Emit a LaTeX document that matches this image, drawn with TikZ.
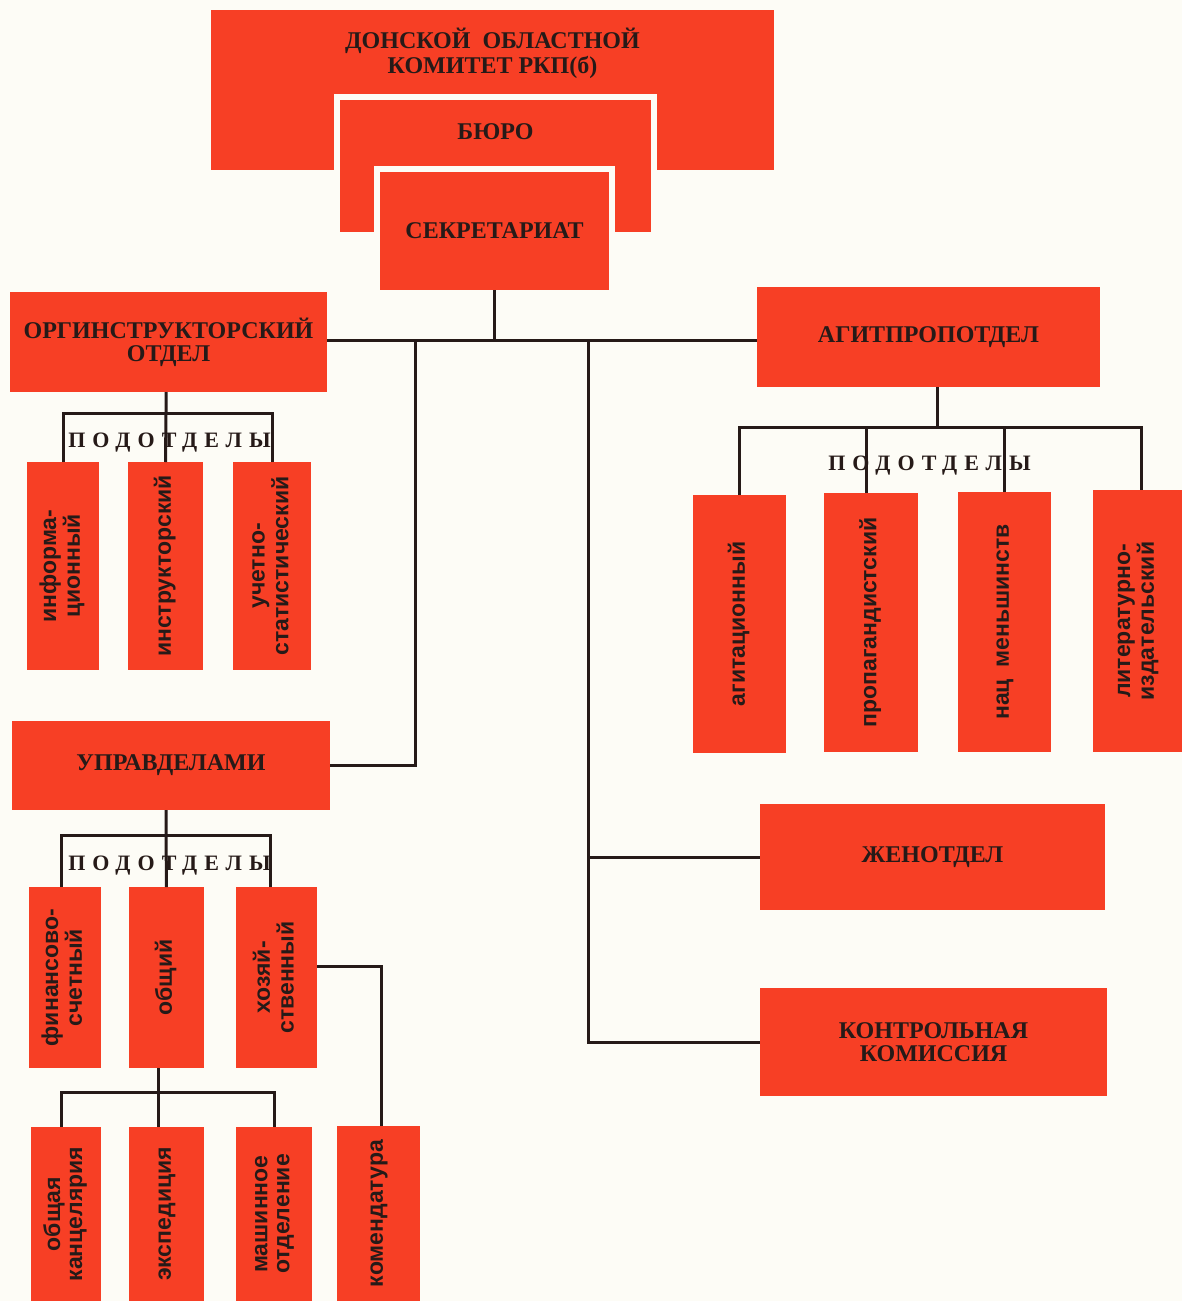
\documentclass[tikz,border=0pt]{standalone}
\usepackage{fontspec}
\usepackage{graphicx}
\setmainfont{Liberation Serif}
\newfontfamily\sanslabel{Liberation Sans}
\newfontfamily\spacedcaps[LetterSpace=32]{Liberation Serif}

\definecolor{boxred}{RGB}{247,63,37}
\definecolor{paper}{RGB}{253,252,246}
\definecolor{ink}{RGB}{38,26,24}

\newcommand{\uptext}[1]{\rotatebox{90}{\begin{tabular}{@{}c@{}}#1\end{tabular}}}

\tikzset{
  every node/.style={
    text=ink
  },
  unit/.style={
    shape=rectangle,
    fill=boxred,
    inner sep=0pt,
    outer sep=0pt,
    align=center,
    font=\bfseries\fontsize{24}{23}\selectfont
  },
  framed unit/.style={
    unit,
    draw=paper,
    line width=6pt
  },
  subunit/.style={
    shape=rectangle,
    fill=boxred,
    inner sep=0pt,
    outer sep=0pt,
    anchor=north west,
    font=\sanslabel\bfseries\fontsize{23}{22}\selectfont
  },
  subheading/.style={
    anchor=base,
    inner sep=0pt,
    font=\spacedcaps\bfseries\fontsize{22}{22}\selectfont
  },
  link/.style={
    draw=ink,
    line width=3pt
  },
  boxsize/.style 2 args={
    minimum width=#1,
    minimum height=#2
  }
}

\begin{document}
\begin{tikzpicture}[x=1pt,y=-1pt]
  \useasboundingbox (0,0) rectangle (1182,1301);
  \fill[paper] (0,0) rectangle (1182,1301);

  % committee, bureau, secretariat
  \node (oblkom) [unit, anchor=north west, boxsize={563pt}{160pt},
    text height=63pt, text depth=97pt] at (211,10)
    {\begin{tabular}[b]{@{}c@{}}ДОНСКОЙ~~ОБЛАСТНОЙ\\КОМИТЕТ РКП(б)\end{tabular}};
  \node (buro) [framed unit, anchor=north west, boxsize={317pt}{138pt},
    text height=42pt, text depth=96pt] at (337,97) {БЮРО};
  \node (sekr) [framed unit, anchor=north west, boxsize={235pt}{124pt}] at (377,169) {СЕКРЕТАРИАТ};

  % departments
  \node (orgotd) [unit, anchor=north west, boxsize={317pt}{100pt}] at (10,292) {ОРГИНСТРУКТОРСКИЙ\\ОТДЕЛ};
  \node (agit) [unit, anchor=north west, boxsize={343pt}{100pt}] at (757,287) {АГИТПРОПОТДЕЛ};
  \node (uprav) [unit, anchor=north west, boxsize={318pt}{89pt}] at (12,721) {УПРАВДЕЛАМИ};
  \node (zhen) [unit, anchor=north west, boxsize={345pt}{106pt}] at (760,804) {ЖЕНОТДЕЛ};
  \node (kontrol) [unit, anchor=north west, boxsize={347pt}{108pt}] at (760,988) {КОНТРОЛЬНАЯ\\КОМИССИЯ};

  % sub-departments
  \node (inform) [subunit, boxsize={72pt}{208pt}] at (27,462) {\uptext{информа-\\ционный}};
  \node (instr) [subunit, boxsize={75pt}{208pt}] at (128,462) {\uptext{инструкторский}};
  \node (uchet) [subunit, boxsize={78pt}{208pt}] at (233,462) {\uptext{учетно-\\статистический}};

  \node (agitac) [subunit, boxsize={93pt}{258pt}] at (693,495) {\uptext{агитационный}};
  \node (propag) [subunit, boxsize={94pt}{259pt}] at (824,493) {\uptext{пропагандистский}};
  \node (nacmen) [subunit, boxsize={93pt}{260pt}] at (958,492) {\uptext{нац\enspace меньшинств}};
  \node (litizd) [subunit, boxsize={89pt}{262pt}] at (1093,490) {\uptext{литературно-\\издательский}};

  \node (finans) [subunit, boxsize={72pt}{181pt}] at (29,887) {\uptext{финансово-\\счетный}};
  \node (obsch) [subunit, boxsize={75pt}{181pt}] at (129,887) {\uptext{общий}};
  \node (hozya) [subunit, boxsize={81pt}{181pt}] at (236,887) {\uptext{хозяй-\\ственный}};

  \node (kanc) [subunit, boxsize={70pt}{174pt}] at (31,1127) {\uptext{общая\\канцелярия}};
  \node (eksped) [subunit, boxsize={75pt}{174pt}] at (129,1127) {\uptext{экспедиция}};
  \node (mashin) [subunit, boxsize={76pt}{174pt}] at (236,1127) {\uptext{машинное\\отделение}};
  \node (komend) [subunit, boxsize={83pt}{175pt}] at (337,1126) {\uptext{комендатура}};

  % main lines
  \path ([yshift=3pt]sekr.south) ++(0,50) coordinate (hub);
  \coordinate (leftdrop) at (415,340);
  \coordinate (rightdrop) at (588,340);
  \draw[link] ([yshift=3pt]sekr.south) -- (hub);
  \draw[link] (orgotd.east |- hub) -- (agit.west |- hub);
  \draw[link] (leftdrop) |- (uprav.east);
  \draw[link] (rightdrop) |- (kontrol.west);
  \draw[link] (rightdrop |- zhen.west) -- (zhen.west);

  % sub-department lines
  \coordinate (orgbus) at (166,413);
  \draw[link] (orgotd.south -| orgbus) -- (orgbus) -- (instr.north);
  \draw[link] (inform.north) |- (orgbus) -| (uchet.north);

  \coordinate (agitbus) at (937,427);
  \draw[link] (agit.south -| agitbus) -- (agitbus);
  \draw[link] (agitac.north) |- (agitbus) -| ([xshift=4pt]litizd.north);
  \draw[link] ([xshift=-5pt]propag.north) -- ([xshift=-5pt]propag.north |- agitbus);
  \draw[link] (nacmen.north) -- (nacmen.north |- agitbus);

  \coordinate (uprbus) at (166,835);
  \draw[link] (uprav.south -| uprbus) -- (uprbus) -- (obsch.north);
  \draw[link] ([xshift=-4pt]finans.north) |- (uprbus) -| ([xshift=-6pt]hozya.north);

  \coordinate (obschbus) at (158,1092);
  \draw[link] (obsch.south -| obschbus) -- (eksped.north -| obschbus);
  \draw[link] ([xshift=-5pt]kanc.north) |- (obschbus) -| (mashin.north);
  \draw[link] ([yshift=11pt]hozya.east) -| ([xshift=3pt]komend.north);

  \node (orgsub) [subheading] at (169.5,447) {ПОДОТДЕЛЫ};
  \node (agitsub) [subheading] at (929.5,470) {ПОДОТДЕЛЫ};
  \node (uprsub) [subheading] at (169.5,870) {ПОДОТДЕЛЫ};
\end{tikzpicture}
\end{document}
